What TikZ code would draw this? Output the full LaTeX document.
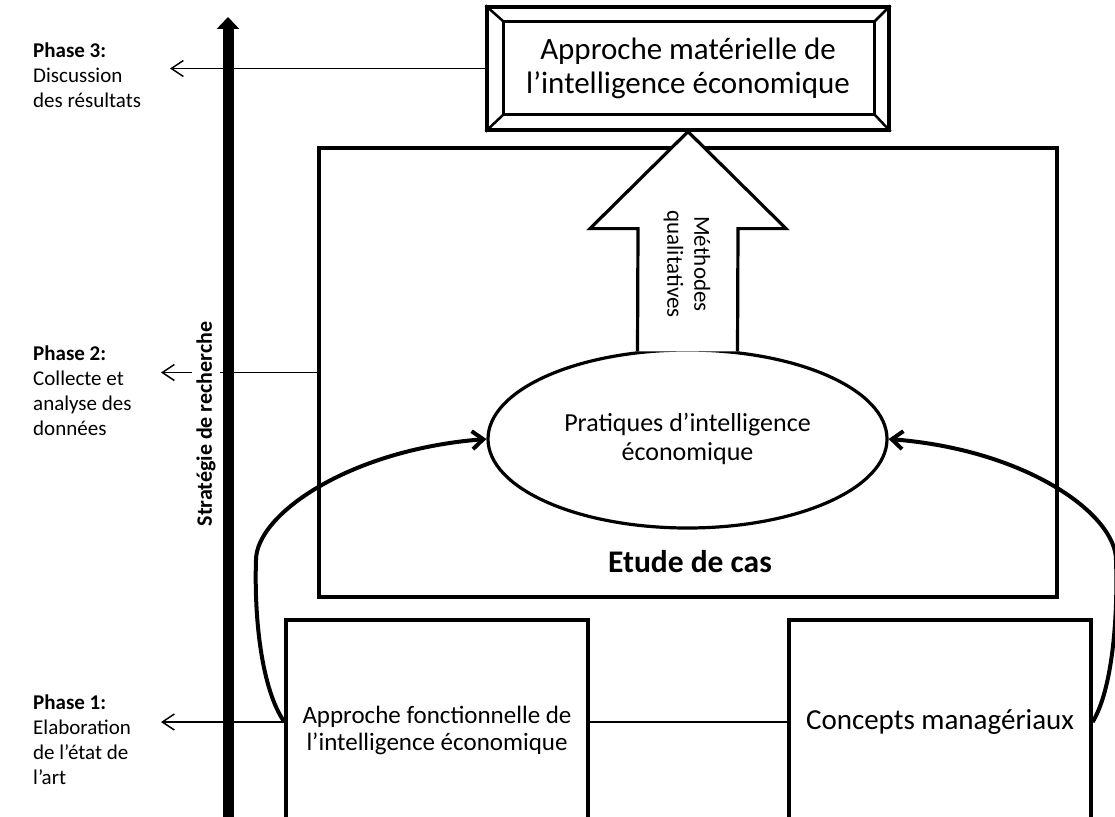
\documentclass[tikz,border=0pt]{standalone}
\usepackage{fontspec}
\setmainfont{Carlito}
\usetikzlibrary{calc,positioning,arrows.meta,shapes.geometric}
\tikzset{
  boxnode/.style   = {shape=rectangle, draw, line width=3.2pt, inner sep=0pt,
                      align=center, fill=white},
  phase/.style     = {anchor=north west, inner sep=0pt, align=left,
                      font=\fontsize{21}{25}\selectfont},
  phaseline/.style = {line width=1.5pt, -{Straight Barb[length=12pt,width=16pt]}},
  feedback/.style  = {line width=4pt, -{Straight Barb[length=11pt,width=18pt]}}
}

\begin{document}
\begin{tikzpicture}[x=1pt,y=-1pt]
\useasboundingbox (0,0) rectangle (1115,816);
\fill[white] (0,0) rectangle (1115,816);
\clip (0,0) rectangle (1115,816);

\coordinate (p3) at (170,0);
\coordinate (p2) at (161,0);
\coordinate (p1) at (161,0);
\coordinate (axisbot) at (228,822);
\coordinate (axistop) at (228,17);

\node [boxnode, minimum width=738pt, minimum height=449pt] (case) at (688,372.5) {};
\node [font=\bfseries\fontsize{31.5}{36}\selectfont] (etude) at (690,562) {Etude de cas};

\node [boxnode, minimum width=402pt, minimum height=123pt,
       font=\fontsize{31}{34}\selectfont] (mat) at (688,68.5)
      {Approche matérielle de\\l’intelligence économique};
\draw[line width=3pt] ($(mat.north west)+(18,16)$) rectangle ($(mat.south east)+(-16,-17)$);
\draw[line width=2.5pt] (mat.north west) -- ++(18,16) (mat.north east) -- ++(-16,16)
  (mat.south west) -- ++(18,-17) (mat.south east) -- ++(-16,-17);

\node [boxnode, ellipse, minimum width=399pt, minimum height=178pt,
       font=\fontsize{26}{29}\selectfont] (prat) at (687.5,439)
      {Pratiques d’intelligence\\économique};

\draw[line width=3.2pt, fill=white] ($(prat.north)+(-50,3)$) -- ($(mat.south)+(-50,97)$)
  -- ($(mat.south)+(-98,97)$) -- (mat.south) -- ($(mat.south)+(98,97)$)
  -- ($(mat.south)+(50,97)$) -- ($(prat.north)+(50,3)$);
\node [rotate=-90, align=center, font=\fontsize{23}{27}\selectfont] (meth) at (687,264)
      {Méthodes\\qualitatives};

\node [boxnode, minimum width=302pt, minimum height=220pt,
       font=\fontsize{25}{27}\selectfont] (fonc) at (437,730)
      {Approche fonctionnelle de\\l’intelligence économique};
\node [boxnode, minimum width=302pt, minimum height=204pt,
       font=\fontsize{29}{33}\selectfont] (concepts) at (940,722) {Concepts managériaux};
\draw[line width=1.5pt] (fonc.east |- concepts.west) -- (concepts.west);

\draw[phaseline] (mat.west) -- (mat.west -| p3);
\draw[phaseline] (case.west) -- (case.west -| p2);
\draw[phaseline] (fonc.west |- concepts.west) -- (concepts.west -| p1);

\draw[feedback] (fonc.west |- concepts.west) .. controls (262,690) and (254,620) .. (256,560)
  .. controls (256,515) and (348,450) .. (prat.west);
\draw[feedback] (concepts.east) .. controls (1112,690) and (1118,620) .. (1116,560)
  .. controls (1116,515) and (1028,450) .. (prat.east);

\node [phase] (ph3) at (33,42.5) {\textbf{Phase 3:}\\Discussion\\des résultats};
\node [phase] (ph2) at (33,345.5) {\textbf{Phase 2:}\\Collecte et\\analyse des\\données};
\node [phase] (ph1) at (33,694.5) {\textbf{Phase 1:}\\Elaboration\\de l’état de\\l’art};

\node [rotate=90, fill=white, inner sep=4pt, font=\bfseries\fontsize{22}{25}\selectfont]
      (strat) at (206,424) {Stratégie de recherche};
\draw[line width=11pt, -{Triangle[length=12pt,width=22pt]}] (axisbot) -- (axistop);
\end{tikzpicture}
\end{document}
